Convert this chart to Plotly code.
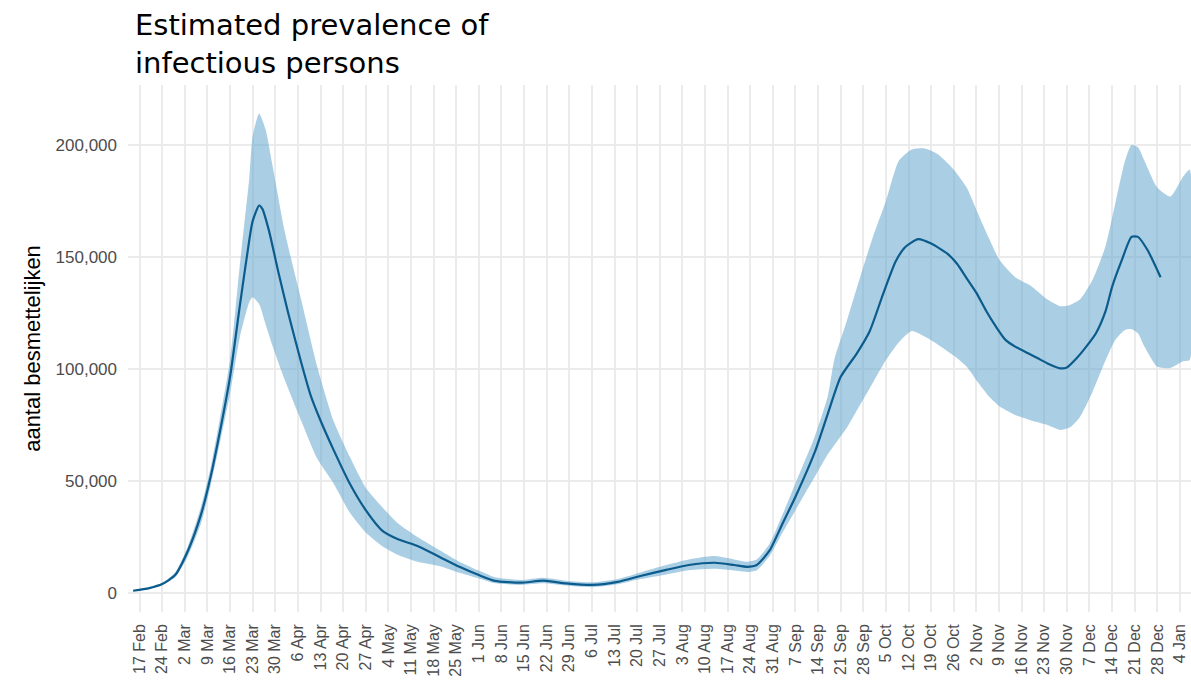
import plotly.graph_objects as go
from datetime import date, timedelta

# ---- data ----
line_dates = [
    "2020-02-15", "2020-02-20", "2020-02-24", "2020-02-28", "2020-03-03", "2020-03-07",
    "2020-03-10", "2020-03-13", "2020-03-16", "2020-03-19", "2020-03-22", "2020-03-23",
    "2020-03-25", "2020-03-26", "2020-03-28", "2020-03-31", "2020-04-03", "2020-04-07",
    "2020-04-10", "2020-04-13", "2020-04-17", "2020-04-22", "2020-04-27", "2020-05-02",
    "2020-05-07", "2020-05-13", "2020-05-20", "2020-05-26", "2020-06-01", "2020-06-06",
    "2020-06-14", "2020-06-21", "2020-06-28", "2020-07-06", "2020-07-14", "2020-07-21",
    "2020-07-29", "2020-08-05", "2020-08-13", "2020-08-19", "2020-08-23", "2020-08-26",
    "2020-08-30", "2020-09-03", "2020-09-07", "2020-09-13", "2020-09-17", "2020-09-21",
    "2020-09-26", "2020-09-30", "2020-10-04", "2020-10-08", "2020-10-11", "2020-10-15",
    "2020-10-19", "2020-10-24", "2020-10-27", "2020-10-30", "2020-11-02", "2020-11-05",
    "2020-11-08", "2020-11-11", "2020-11-14", "2020-11-18", "2020-11-21", "2020-11-24",
    "2020-11-28", "2020-11-30", "2020-12-03", "2020-12-06", "2020-12-09", "2020-12-12",
    "2020-12-14", "2020-12-17", "2020-12-20", "2020-12-22", "2020-12-25", "2020-12-29",
]
line_values = [
    1000, 2200, 4000, 8000, 19000, 35000,
    52000, 73000, 96500, 128000, 158000, 166000,
    173000, 171500, 162000, 143000, 125000, 103000,
    88000, 77000, 64000, 49000, 37000, 28000,
    24000, 21000, 16000, 11700, 8000, 5400,
    4600, 5500, 4300, 3600, 5000, 7600,
    10300, 12500, 13500, 12500, 11700, 12500,
    19000, 31000, 43000, 63000, 80000, 96500,
    107000, 117000, 133000, 148000, 154500, 158000,
    156000, 151500, 147000, 140500, 134000, 126000,
    119000, 113000, 110000, 107000, 104800, 102500,
    100300, 100700, 104800, 110000, 116000, 126000,
    136700, 148600, 159000, 159000, 153000, 141000,
]

band_dates = [
    "2020-02-15", "2020-02-20", "2020-02-24", "2020-02-28", "2020-03-03", "2020-03-07",
    "2020-03-10", "2020-03-13", "2020-03-16", "2020-03-19", "2020-03-22", "2020-03-23",
    "2020-03-25", "2020-03-27", "2020-03-29", "2020-04-02", "2020-04-07", "2020-04-12",
    "2020-04-17", "2020-04-22", "2020-04-27", "2020-05-02", "2020-05-07", "2020-05-13",
    "2020-05-20", "2020-05-26", "2020-06-01", "2020-06-06", "2020-06-14", "2020-06-21",
    "2020-06-28", "2020-07-06", "2020-07-14", "2020-07-21", "2020-07-29", "2020-08-05",
    "2020-08-13", "2020-08-19", "2020-08-23", "2020-08-26", "2020-08-30", "2020-09-03",
    "2020-09-07", "2020-09-13", "2020-09-17", "2020-09-19", "2020-09-23", "2020-09-27",
    "2020-10-01", "2020-10-05", "2020-10-09", "2020-10-13", "2020-10-17", "2020-10-21",
    "2020-10-26", "2020-10-30", "2020-11-02", "2020-11-06", "2020-11-09", "2020-11-14",
    "2020-11-19", "2020-11-24", "2020-11-28", "2020-12-01", "2020-12-04", "2020-12-08",
    "2020-12-12", "2020-12-15", "2020-12-18", "2020-12-20", "2020-12-22", "2020-12-24",
    "2020-12-28", "2021-01-01", "2021-01-05", "2021-01-07",
]
band_upper = [
    1200, 2600, 4600, 9200, 21000, 38500,
    56000, 79000, 104000, 146000, 186000, 204000,
    214000, 207000, 192000, 161000, 131000, 101000,
    77000, 61000, 47000, 38500, 31000, 25000,
    19000, 14000, 10000, 7000, 5800, 6800,
    5500, 4800, 6300, 9200, 12500, 15000,
    16500, 15000, 14000, 15000, 22000, 35000,
    49000, 70000, 88000, 104000, 122000, 141000,
    159000, 175000, 193000, 198000, 198500, 196000,
    189000, 181000, 171000, 158000, 149000, 141000,
    137000, 131000, 128000, 128600, 131000, 140000,
    155000, 174000, 193000, 200000, 199000, 193000,
    181000, 177000, 186000, 189000,
]
band_lower = [
    800, 1900, 3500, 7000, 16500, 31000,
    48000, 68000, 89000, 114000, 130000, 132000,
    129000, 120000, 111000, 95000, 77000, 60000,
    49000, 36000, 27000, 21000, 17000, 14000,
    12000, 9000, 6500, 4300, 3600, 4300,
    3300, 2600, 3900, 6200, 8300, 10200,
    10800, 10000, 9400, 10200, 16500, 27000,
    37000, 52000, 62000, 66000, 74000, 84000,
    94000, 104000, 112000, 117000, 114500, 111000,
    106000, 101000, 95000, 87600, 83500, 79500,
    77000, 75000, 72800, 74000, 78500, 90000,
    104000, 113000, 117400, 117800, 116000, 110000,
    101000, 100500, 103500, 104000,
]

tick_start = date(2020, 2, 17)
n_ticks = 47
tick_dates = [(tick_start + timedelta(days=7 * i)).isoformat() for i in range(n_ticks)]
tick_labels = [
    "17 Feb", "24 Feb", "2 Mar", "9 Mar", "16 Mar", "23 Mar", "30 Mar", "6 Apr",
    "13 Apr", "20 Apr", "27 Apr", "4 May", "11 May", "18 May", "25 May", "1 Jun",
    "8 Jun", "15 Jun", "22 Jun", "29 Jun", "6 Jul", "13 Jul", "20 Jul", "27 Jul",
    "3 Aug", "10 Aug", "17 Aug", "24 Aug", "31 Aug", "7 Sep", "14 Sep", "21 Sep",
    "28 Sep", "5 Oct", "12 Oct", "19 Oct", "26 Oct", "2 Nov", "9 Nov", "16 Nov",
    "23 Nov", "30 Nov", "7 Dec", "14 Dec", "21 Dec", "28 Dec", "4 Jan",
]

y_ticks = [0, 50000, 100000, 150000, 200000]

title_text = "Estimated prevalence of<br>infectious persons"
y_title = "aantal besmettelijken"

# ---- figure ----
fig = go.Figure()

fig.add_trace(go.Scatter(
    x=band_dates + band_dates[::-1],
    y=band_upper + band_lower[::-1],
    fill="toself",
    fillcolor="rgba(100,165,205,0.55)",
    line=dict(width=0, shape="spline", smoothing=0.6),
    mode="lines",
    hoverinfo="skip",
    showlegend=False,
))

fig.add_trace(go.Scatter(
    x=line_dates,
    y=line_values,
    mode="lines",
    line=dict(color="#0b5b8c", width=2.2, shape="spline", smoothing=0.6),
    showlegend=False,
))

plot_h = 688 - 85 - 76
fig.add_annotation(
    text=title_text,
    xref="paper", x=(133 - 128) / 1063, xanchor="left",
    yref="paper", y=1 + (85 - 6) / plot_h, yanchor="top",
    showarrow=False, align="left",
    font=dict(family="DejaVu Sans", size=29, color="black"),
)

fig.update_layout(
    width=1191,
    height=688,
    margin=dict(l=128, r=0, t=85, b=76, autoexpand=False),
    paper_bgcolor="white",
    plot_bgcolor="white",
    xaxis=dict(
        type="date",
        automargin=False,
        range=["2020-02-13 10:00", "2021-01-07 10:00"],
        tickvals=tick_dates,
        ticktext=tick_labels,
        tickangle=-90,
        tickfont=dict(family="Liberation Sans", size=16, color="#4d4d4d"),
        showgrid=True,
        gridcolor="#ebebeb",
        gridwidth=2,
        zeroline=False,
        showline=False,
        ticks="",
        ticklabelstandoff=8,
    ),
    yaxis=dict(
        automargin=False,
        range=[-8480, 226800],
        tickvals=y_ticks,
        tickformat=",",
        tickfont=dict(family="Liberation Sans", size=17, color="#4d4d4d"),
        showgrid=True,
        gridcolor="#ebebeb",
        gridwidth=2,
        zeroline=False,
        showline=False,
        ticks="",
        ticklabelstandoff=10,
        title=dict(
            text=y_title,
            font=dict(family="Liberation Sans", size=22, color="black"),
            standoff=8,
        ),
    ),
)

fig.write_html(
    "out.html",
    config={"displayModeBar": False},
    post_script="document.body.style.margin='0';document.body.style.overflow='hidden';",
)
